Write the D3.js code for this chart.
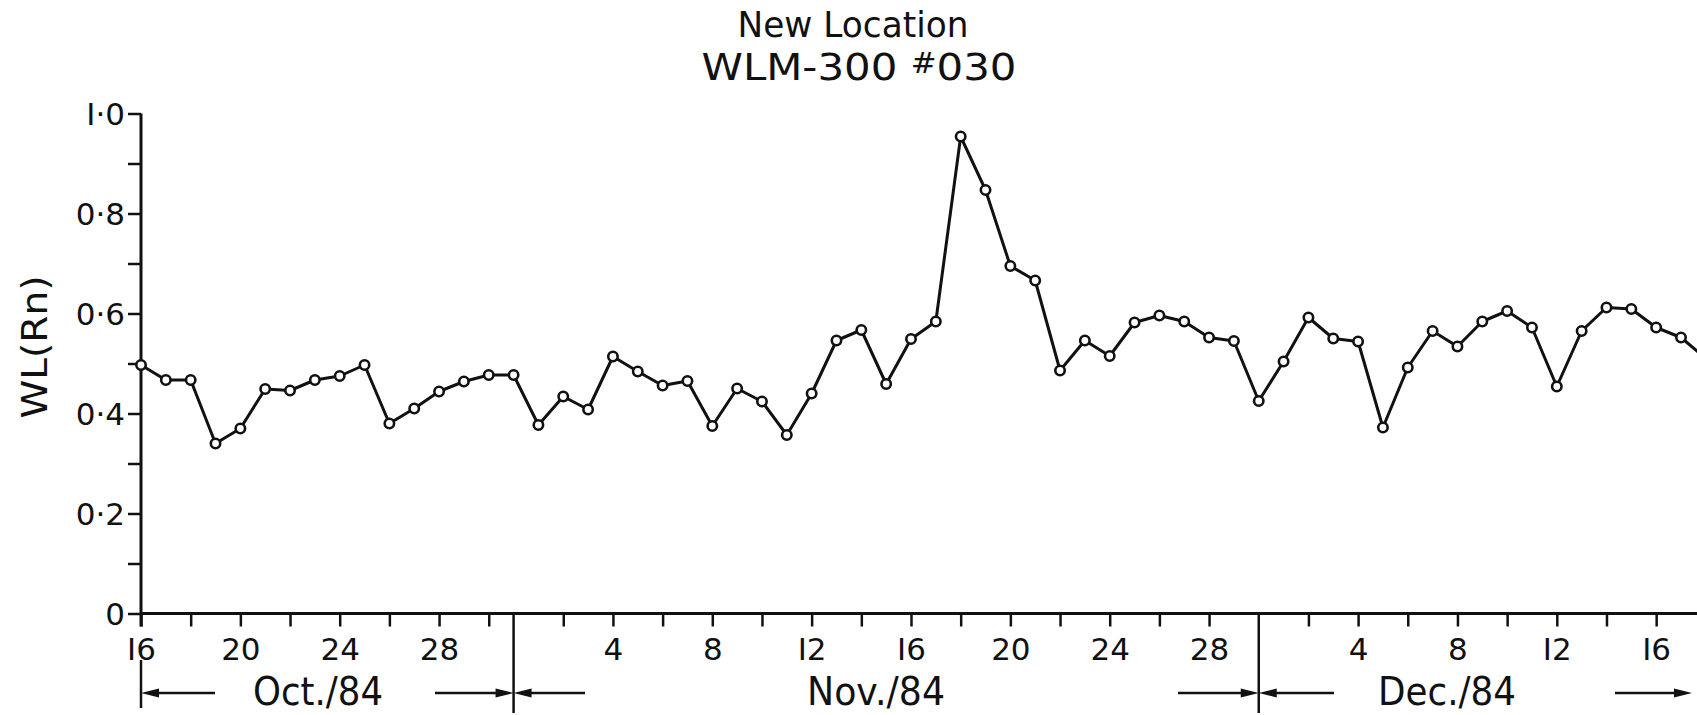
<!DOCTYPE html>
<html>
<head>
<meta charset="utf-8">
<script src="https://cdn.jsdelivr.net/npm/d3@7"></script>
<style>
  body { margin: 0; background: #fff; }
  svg { display: block; }
  text { font-family: "DejaVu Sans", sans-serif; fill: #111; }
</style>
</head>
<body>
<svg id="chart" width="1697" height="715"></svg>
<script>
// daily WL readings
var octDays = [16,17,18,19,20,21,22,23,24,25,26,27,28,29,30,31];
var octValues = [0.497,0.467,0.467,0.340,0.370,0.449,0.446,0.467,0.475,0.497,0.380,0.410,0.444,0.464,0.477,0.477];
var novDays = [1,2,3,4,5,6,7,8,9,10,11,12,13,14,15,16,17,18,19,20,21,22,23,24,25,26,27,28,29,30];
var novValues = [0.377,0.434,0.408,0.514,0.484,0.456,0.465,0.375,0.450,0.424,0.357,0.440,0.546,0.567,0.459,0.549,0.584,0.954,0.847,0.695,0.666,0.486,0.546,0.515,0.582,0.596,0.584,0.552,0.545,0.425];
var decDays = [1,2,3,4,5,6,7,8,9,10,11,12,13,14,15,16,17,18];
var decValues = [0.504,0.592,0.550,0.544,0.372,0.492,0.565,0.534,0.584,0.605,0.572,0.454,0.565,0.612,0.609,0.572,0.552,0.510];

var octTicks = [16,18,20,22,24,26,28,30];
var novTicks = [2,4,6,8,10,12,14,16,18,20,22,24,26,28];
var decTicks = [2,4,6,8,10,12,14,16,18];
var labelledDays = [4,8,12,16,20,24,28];
var yTicks = [0,0.1,0.2,0.3,0.4,0.5,0.6,0.7,0.8,0.9,1.0];
var yTickLabels = {"0":"0","0.2":"0·2","0.4":"0·4","0.6":"0·6","0.8":"0·8","1":"I·0"};

var months = ["Oct./84","Nov./84","Dec./84"];

function dt(m, d){ return new Date(1984, m, d); }

var data = [];
octDays.forEach(function(d,i){ data.push({date: dt(9,d), v: octValues[i]}); });
novDays.forEach(function(d,i){ data.push({date: dt(10,d), v: novValues[i]}); });
decDays.forEach(function(d,i){ data.push({date: dt(11,d), v: decValues[i]}); });

var tickDates = [];
octTicks.forEach(function(d){ tickDates.push(dt(9,d)); });
novTicks.forEach(function(d){ tickDates.push(dt(10,d)); });
decTicks.forEach(function(d){ tickDates.push(dt(11,d)); });

var svg = d3.select("#chart");
var W = 1697;

var x = d3.scaleTime()
  .domain([dt(9,16), dt(11,17)])
  .range([141, 1681]);
var y = d3.scaleLinear()
  .domain([0, 1])
  .range([613.5, 113.5]);

// title
svg.append("text")
  .attr("x", 853).attr("y", 37)
  .attr("text-anchor", "middle")
  .style("font-size", "35px")
  .attr("textLength", 231).attr("lengthAdjust", "spacingAndGlyphs")
  .text("New Location");
var t2 = svg.append("text")
  .attr("x", 859).attr("y", 80)
  .attr("text-anchor", "middle")
  .style("font-size", "38px")
  .attr("textLength", 315).attr("lengthAdjust", "spacingAndGlyphs");
t2.append("tspan").text("WLM-300 ");
t2.append("tspan").style("font-size", "28px").attr("dy", -7).text("#");
t2.append("tspan").attr("dy", 7).text("030");

// y axis
var yAxis = d3.axisLeft(y)
  .tickValues(yTicks)
  .tickSize(13)
  .tickSizeOuter(0)
  .tickPadding(3)
  .tickFormat(function(d){ return yTickLabels[String(+d.toFixed(1))] || ""; });

var gy = svg.append("g")
  .attr("transform", "translate(141,0)")
  .call(yAxis);
gy.select(".domain").remove();
gy.selectAll(".tick line").attr("stroke", "#111").attr("stroke-width", 2.5);
gy.selectAll(".tick text")
  .style("font-size", "31px")
  .attr("fill", "#111")
  .attr("dy", "0.36em");

// x axis ticks + day labels
var xAxis = d3.axisBottom(x)
  .tickValues(tickDates)
  .tickSize(13)
  .tickSizeOuter(0)
  .tickPadding(11)
  .tickFormat(function(d){
    var day = d.getDate();
    if (d.getMonth() == 9 && day == 16) return "I6";
    return labelledDays.indexOf(day) >= 0 ? String(day).replace(/1/g, "I") : "";
  });

var gx = svg.append("g")
  .attr("transform", "translate(0," + y(0) + ")")
  .call(xAxis);
gx.select(".domain").remove();
gx.selectAll(".tick line").attr("stroke", "#111").attr("stroke-width", 2.5);
gx.selectAll(".tick text")
  .style("font-size", "31px")
  .attr("fill", "#111");

// axis lines
svg.append("line")
  .attr("x1", 141).attr("x2", 141)
  .attr("y1", y(1)).attr("y2", y(0) + 13)
  .attr("stroke", "#111").attr("stroke-width", 3);
svg.append("line")
  .attr("x1", 141).attr("x2", W)
  .attr("y1", y(0)).attr("y2", y(0))
  .attr("stroke", "#111").attr("stroke-width", 3);

// month separators
[dt(9,31), dt(10,30)].forEach(function(d){
  svg.append("line")
    .attr("x1", x(d)).attr("x2", x(d))
    .attr("y1", y(0)).attr("y2", 713)
    .attr("stroke", "#111").attr("stroke-width", 2.5);
});
svg.append("line")
  .attr("x1", x(dt(9,16))).attr("x2", x(dt(9,16)))
  .attr("y1", 660).attr("y2", 708)
  .attr("stroke", "#111").attr("stroke-width", 2.5);

// month arrows
var arrowY = 693;
function arrow(x1, x2){
  // head at x2
  var dir = x2 > x1 ? 1 : -1;
  svg.append("line")
    .attr("x1", x1).attr("x2", x2 - dir * 12)
    .attr("y1", arrowY).attr("y2", arrowY)
    .attr("stroke", "#111").attr("stroke-width", 2.5);
  svg.append("path")
    .attr("d", "M" + x2 + "," + arrowY + " L" + (x2 - dir * 18) + "," + (arrowY - 4.5) +
               " L" + (x2 - dir * 18) + "," + (arrowY + 4.5) + " Z")
    .attr("fill", "#111");
}
arrow(215, x(dt(9,16)));
arrow(435, x(dt(9,31)));
arrow(585, x(dt(9,31)));
arrow(1178, x(dt(10,30)));
arrow(1334, x(dt(10,30)));
arrow(1615, 1692);

var monthPos = [318, 876, 1447];
months.forEach(function(m, i){
  svg.append("text")
    .attr("x", monthPos[i]).attr("y", 705)
    .attr("text-anchor", "middle")
    .style("font-size", "39px")
    .attr("textLength", i == 0 ? 130 : 138).attr("lengthAdjust", "spacingAndGlyphs")
    .text(m);
});

// y label
svg.append("text")
  .attr("transform", "translate(47,347) rotate(-90)")
  .attr("text-anchor", "middle")
  .style("font-size", "36px")
  .attr("textLength", 143).attr("lengthAdjust", "spacingAndGlyphs")
  .text("WL(Rn)");

// series
var line = d3.line()
  .x(function(d){ return x(d.date); })
  .y(function(d){ return y(d.v); });

svg.append("path")
  .datum(data)
  .attr("d", line)
  .attr("fill", "none")
  .attr("stroke", "#111")
  .attr("stroke-width", 3)
  .attr("stroke-linejoin", "round");

svg.selectAll("circle.pt")
  .data(data)
  .enter()
  .append("circle")
  .attr("class", "pt")
  .attr("cx", function(d){ return x(d.date); })
  .attr("cy", function(d){ return y(d.v); })
  .attr("r", 4.7)
  .attr("fill", "#fff")
  .attr("stroke", "#111")
  .attr("stroke-width", 2.6);
</script>
</body>
</html>
